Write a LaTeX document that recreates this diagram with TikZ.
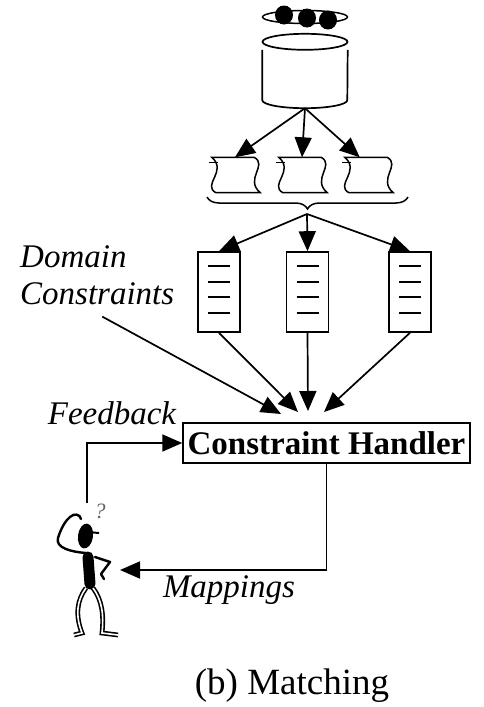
\documentclass[tikz,border=0pt]{standalone}
\usepackage{fontspec}
\setmainfont{Liberation Serif}
\usepackage{tikz}
\usetikzlibrary{
  arrows.meta,
  calc,
  shapes.geometric,
  decorations.pathreplacing
}
\newcommand{\lblfont}{\fontsize{33}{37}\selectfont\itshape}
\tikzset{
  flow/.style={
    -{Triangle[length=20pt,width=17pt]},
    line width=1.7pt},
  docbox/.style={draw, line width=1.6pt,
    minimum width=42pt, minimum height=80pt},
  scrollbox/.style={minimum width=50pt, minimum height=35pt},
  lbl/.style={font=\lblfont, inner sep=0pt}
  }

\begin{document}
\begin{tikzpicture}[x=1pt,y=-1pt]
    \useasboundingbox (0,0) rectangle (483,707);
    % source: network of peers and the database
    \node[ellipse, draw, line width=1.5pt, minimum width=85pt, minimum height=13pt] (net) at (305,17) {};
    \foreach \px/\py in {284/15, 307/18, 328/20}
      \fill (\px,\py) ellipse (9 and 9.5);
    \node[minimum width=85pt, minimum height=66pt] (db) at (305,75) {};
    \draw[line width=1.7pt] (db.north) ellipse (42.5 and 8);
    \draw[line width=1.7pt] ([yshift=-8pt]db.north west) -- ([yshift=8pt]db.south west)
      arc[start angle=180, end angle=360, x radius=42.5, y radius=-8]
      -- ([yshift=-8pt]db.north east);
    % extracted schemas
    \node[scrollbox] (s1) at (235,175) {};
    \node[scrollbox] (s2) at (302,175) {};
    \node[scrollbox] (s3) at (368,175) {};
    \foreach \s in {s1,s2,s3} {
      \draw[line width=1.5pt] ([xshift=2pt]\s.north west) -- ([xshift=-6pt]\s.north east)
        .. controls +(14,8) and +(-16,-14) .. (\s.south east)
        -- ([xshift=6pt]\s.south west)
        .. controls +(-14,-8) and +(16,14) .. cycle;
      \draw[line width=1.3pt] ([xshift=-1pt,yshift=-5pt]\s.north west) -- ([xshift=8pt,yshift=-5pt]\s.north west);
    }
    \draw[decorate, decoration={brace, amplitude=12pt}, line width=1.5pt]
      (408,197) -- (207,197);
    \coordinate (fork) at (307,214);
    % candidate mappings
    \node[docbox] (d1) at (219,292) {};
    \node[docbox] (d2) at (307.5,292) {};
    \node[docbox] (d3) at (410,292) {};
    \foreach \d in {d1,d2,d3}
      \foreach \dy in {15,31,46,62}
        \draw[line width=2pt] ($(\d.north)+(-11,\dy)$) -- ($(\d.north)+(11,\dy)$);
    \node[draw, line width=1.5pt, minimum width=287pt, minimum height=40pt,
      font=\fontsize{33}{36}\selectfont\bfseries] (ch) at (326.5,443) {Constraint Handler};
    \coordinate (in0) at (281,414);
    \coordinate (in1) at (298,412);
    \coordinate (in2) at (308,411);
    \coordinate (in3) at (324,412);
    \node[lbl, align=left, anchor=north west] (dom) at (20,245) {Domain\\Constraints};
    \foreach \a/\b in {db.south/s1.north, db.south/s2.north, db.south/s3.115,
                       fork/d1.north, fork/d2.north, fork/d3.north,
                       d1.south/in1, d2.south/in2, d3.south/in3}
      \draw [flow] (\a) -- (\b);
    \draw [flow] ($(dom.south)+(5,12)$) -- (in0);
    % the user in the loop
    \coordinate (fb) at (87,503);
    \coordinate (me) at (120,570);
    \draw [flow] (fb) |- (ch.west);
    \draw [flow] (ch.south) |- (me);
    \node[lbl] (fblbl) at (112,413) {Feedback};
    \node[lbl] (maplbl) at (229,590) {Mappings};
    \node[font=\fontsize{22}{22}\selectfont\itshape, text=black!60, inner sep=0pt] (q) at (100,511) {?};
    \fill[rotate around={-8:(85.5,536)}] (85.5,536) ellipse (7.5 and 12.5);
    \draw[line width=2pt] (88,532) -- (99,533);
    \draw[line width=2.4pt, line cap=round, line join=round]
      (86,553) .. controls (72,552) and (55,548) .. (58,538)
      .. controls (61,528) and (66,520) .. (70,517)
      .. controls (74,513) and (80,514) .. (81,519);
    \draw[line width=11pt, line cap=round] (88,557) -- (90,584);
    \draw[line width=2.4pt, line cap=round, line join=round]
      (95,557) -- (110,562) -- (101,574) -- (104,579);
    \draw[line width=1.6pt, double=white, double distance=1.6pt]
      (86,588) .. controls (77,600) and (75,615) .. (82,633) -- (74,635);
    \draw[line width=1.6pt, double=white, double distance=1.6pt]
      (93,588) .. controls (102,600) and (104,615) .. (102,633) -- (118,635);
    \node[font=\fontsize{37}{40}\selectfont, inner sep=0pt] (cap) at (292,686) {(b) Matching};
  \end{tikzpicture}
\end{document}
